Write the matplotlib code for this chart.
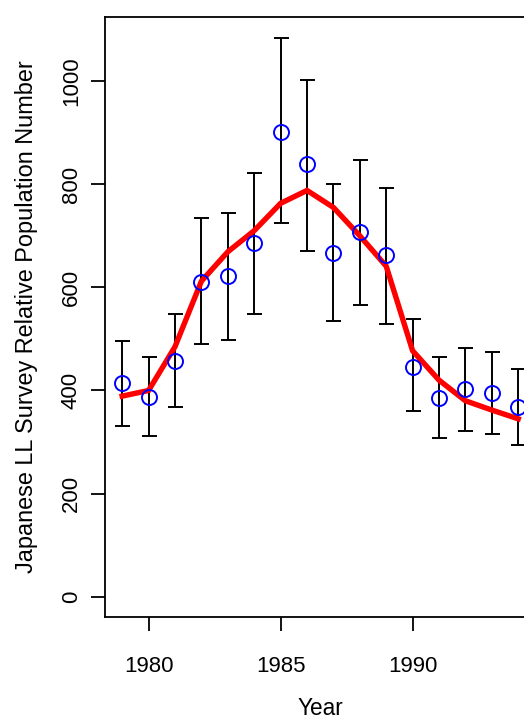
"""Japanese LL survey relative population number by year, with fitted line"""

import matplotlib

matplotlib.use("Agg")
import matplotlib.pyplot as plt

years = [1979, 1980, 1981, 1982, 1983, 1984, 1985, 1986,
         1987, 1988, 1989, 1990, 1991, 1992, 1993, 1994]
observed = [414, 388, 458, 611, 622, 686, 901, 839,
            667, 707, 662, 446, 385, 402, 396, 367]
upper = [496, 464, 548, 734, 745, 821, 1083, 1002,
         800, 848, 792, 538, 464, 482, 475, 441]
lower = [332, 311, 367, 490, 497, 548, 724, 671,
         535, 566, 528, 360, 308, 322, 315, 294]
fitted = [389, 400, 485, 612, 669, 710, 763, 788,
          755, 700, 641, 477, 420, 380, 362, 345]
y_ticks = [0, 200, 400, 600, 800, 1000]
x_ticks = [1980, 1985, 1990]


def make_plot():
    """draws the survey index with error bars and the model fit"""
    plt.rcParams["font.family"] = ["Liberation Sans", "DejaVu Sans"]
    fig = plt.figure(figsize=(5.24, 7.23), dpi=100)
    ax = fig.add_axes([0.201, 0.1462, 0.8197, 0.8307])

    err_lo = [o - l for o, l in zip(observed, lower)]
    err_hi = [u - o for o, u in zip(observed, upper)]
    ax.errorbar(years, observed, yerr=[err_lo, err_hi], fmt="none",
                ecolor="black", elinewidth=1.4, capsize=5.4, capthick=1.4,
                zorder=2)
    ax.plot(years, fitted, color="#ff0000", linewidth=3.9, zorder=3,
            solid_joinstyle="miter")
    ax.plot(years, observed, "o", markersize=10.8, markerfacecolor="none",
            markeredgecolor="#0000ff", markeredgewidth=1.4, zorder=4)

    ax.set_xlim(1978.36, 1994.63)
    ax.set_ylim(-40, 1125)
    ax.set_xticks(x_ticks)
    ax.set_yticks(y_ticks)
    ax.tick_params(direction="out", length=10.4, width=1.3, labelsize=16)
    ax.tick_params(axis="x", pad=17.5)
    ax.tick_params(axis="y", pad=6.5, labelrotation=90)
    for lab in ax.get_yticklabels():
        lab.set_va("center")

    for side in ax.spines.values():
        side.set_linewidth(1.3)

    ax.set_xlabel("Year", fontsize=16.3)
    ax.set_ylabel("Japanese LL Survey Relative Population Number", fontsize=16.9)
    ax.xaxis.set_label_coords(0.5, -0.1327)
    ax.yaxis.set_label_coords(-0.157, 0.5)

    fig.savefig("out.png", dpi=100)


def main():
    make_plot()


if __name__ == "__main__":
    main()
